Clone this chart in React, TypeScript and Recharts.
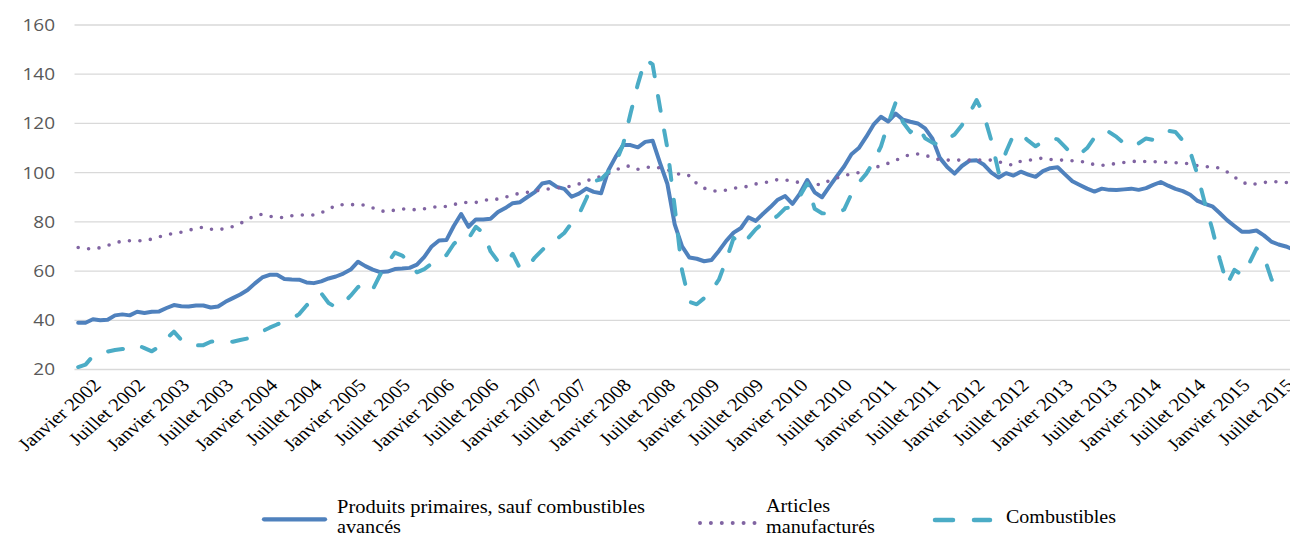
import React from "react";
import { LineChart, Line, XAxis, YAxis, CartesianGrid } from "recharts";

// Tick labels (one every 6 months, Jan 2002 .. Jul 2015)
const tickLabels = [
  "Janvier 2002", "Juillet 2002", "Janvier 2003", "Juillet 2003",
  "Janvier 2004", "Juillet 2004", "Janvier 2005", "Juillet 2005",
  "Janvier 2006", "Juillet 2006", "Janvier 2007", "Juillet 2007",
  "Janvier 2008", "Juillet 2008", "Janvier 2009", "Juillet 2009",
  "Janvier 2010", "Juillet 2010", "Janvier 2011", "Juillet 2011",
  "Janvier 2012", "Juillet 2012", "Janvier 2013", "Juillet 2013",
  "Janvier 2014", "Juillet 2014", "Janvier 2015", "Juillet 2015",
];
const MONTHS_PER_TICK = 6;

const yTicks = [20, 40, 60, 80, 100, 120, 140, 160];

// Monthly values, Jan 2002 .. Oct 2015
const primaires = [
  39, 39, 40.4, 40, 40.2, 42, 42.4, 42, 43.5, 43,
  43.5, 43.6, 45, 46.2, 45.7, 45.6, 46, 46, 45.2, 45.6,
  47.5, 49, 50.5, 52.3, 55, 57.4, 58.5, 58.5, 56.8, 56.6,
  56.5, 55.4, 55.1, 55.8, 57, 57.8, 59, 60.6, 63.8, 62,
  60.6, 59.6, 59.8, 60.8, 61, 61.3, 62.6, 65.8, 70, 72.4,
  72.6, 78.3, 83.2, 78, 81, 81, 81.3, 84, 85.6, 87.6,
  88, 90.1, 92.1, 95.6, 96.2, 94.2, 93.4, 90.2, 91.5, 93.5,
  92.2, 91.6, 101, 106.5, 111.2, 111.2, 110.3, 112.5, 113, 104,
  95.5, 79, 70, 65.5, 65, 64, 64.5, 68.2, 72.3, 75.6,
  77.5, 81.8, 80.4, 83.3, 86, 89, 90.5, 87.3, 91.5, 97,
  92, 90, 94.3, 98.5, 102.5, 107.5, 110, 114.5, 119.5, 122.7,
  120.8, 124, 121.5, 120.7, 120, 118, 113.8, 106, 102.3, 99.6,
  102.7, 104.8, 105, 103.2, 100, 98, 99.8, 98.8, 100.4, 99.2,
  98.3, 100.6, 101.8, 102.2, 99.3, 96.5, 95, 93.5, 92.3, 93.5,
  93, 92.9, 93.2, 93.5, 93, 93.7, 95, 96.2, 94.7, 93.4,
  92.5, 91, 88.5, 87.3, 86.3, 83.6, 80.7, 78.3, 76, 76,
  76.5, 74.5, 72, 70.8, 70, 68.8,
];

const manufactures = [
  69.6, 69.1, 69, 69.5, 70.4, 71.3, 72.3, 72.3, 72.3, 72.4,
  73, 73.9, 74.7, 75.4, 75.8, 76.6, 77.3, 77.9, 77, 76.8,
  77.3, 78.1, 79.3, 81, 82.5, 83.1, 82.3, 81.8, 81.8, 82.5,
  82.8, 82.8, 82.8, 83.7, 85, 86.8, 87, 87, 87, 86.8,
  85.7, 84.5, 84.1, 84.8, 85.2, 85.2, 84.8, 85.3, 85.8, 86.3,
  86.2, 87, 87.8, 87.9, 87.9, 88.5, 89.4, 89.2, 90, 91,
  91.6, 92, 92.5, 93, 93.4, 93.8, 94.1, 94.5, 95.4, 96.5,
  97.8, 98.4, 99.6, 101, 102.5, 102.7, 101.4, 102, 102.5, 101.9,
  101.2, 100.2, 98.8, 98.8, 95.5, 93.7, 92.7, 92.4, 92.9, 93.6,
  94.1, 94.4, 95.4, 95.9, 96.3, 97.2, 97, 96.6, 95.9, 95.7,
  95.3, 95.1, 96.8, 97.8, 98.6, 99.7, 100, 100.5, 101.6, 103,
  103.8, 105, 106.3, 107.4, 107.6, 107, 106.2, 105.1, 105.1, 105.1,
  105.1, 105.1, 105.1, 105.1, 105.1, 104.4, 103.6, 103, 104.7, 105.1,
  105.3, 106, 105.4, 105.1, 105.1, 104.8, 104.6, 104.2, 103.2, 103,
  103.2, 103.8, 104.1, 104.4, 104.8, 104.5, 104.4, 104.4, 104.1, 104,
  103.9, 103.5, 102.8, 102.4, 102.4, 101.8, 100.3, 98.2, 96.3, 95,
  95.5, 96, 96.3, 96.3, 96, 95.7,
];

// Jan 2002 .. Aug 2015
const combustibles = [
  21, 22, 25.5, 26.5, 27.3, 27.9, 28.3, 29, 30, 28.7,
  27.4, 29.3, 32.5, 35.4, 32, 30, 29.8, 29.9, 31.3, 31.7,
  31.5, 31.3, 32, 32.6, 34, 35.5, 37, 38.3, 39.5, 40.5,
  42.5, 46, 49, 51, 47, 45.3, 46.9, 50, 53.5, 55,
  52.5, 58.5, 63.2, 67.5, 66.3, 63.5, 59.5, 60.8, 63, 65.2,
  66.5, 71, 73.8, 73.2, 78, 75.5, 68, 64, 63, 67,
  61, 61.5, 65.5, 68.5, 71.5, 73, 75.5, 79.5, 83, 89.5,
  96.5, 97.3, 100.3, 104, 111.5, 124, 136, 146, 144, 126.5,
  110, 86, 60.2, 47.5, 46.5, 49, 52, 56.5, 64.5, 73.5,
  70.6, 73.5, 77, 79.5, 80.5, 82.5, 85.5, 86, 90.5, 95.7,
  85.3, 83.5, 83.3, 83.5, 85, 91.4, 96, 99.5, 104.5, 110.6,
  120, 128.5, 120.5, 116.5, 119, 114, 112.2, 111.2, 113.5, 115.5,
  119.3, 124, 129.5, 123.3, 113, 100, 108.5, 115.3, 115.7, 113,
  110.7, 112.6, 114.2, 113.5, 110.5, 107.3, 107.5, 110, 114.3, 117,
  116.5, 114.5, 111.9, 110.5, 111.9, 113.9, 113.3, 115, 117, 116.5,
  113, 108.5, 99, 87.5, 77, 65, 54.5, 60.5, 58.4, 63,
  69.2, 66, 57, 50,
];

const data = primaires.map((v, i) => ({
  idx: i,
  primaires: v,
  manufactures: manufactures[i],
  combustibles: i < combustibles.length ? combustibles[i] : null,
}));

const xTicks = tickLabels.map((_, i) => i * MONTHS_PER_TICK);

const COLOR_BLUE = "#4F81BD";
const COLOR_PURPLE = "#8064A2";
const COLOR_CYAN = "#4BACC6";

const SERIF = "'Liberation Serif', 'Times New Roman', serif";
const SANS = "'Open Sans', 'Liberation Sans', sans-serif";

const XTick = (props: any) => {
  const { x, y, payload } = props;
  const ax = x + 24;
  const ay = y + 9;
  const label = tickLabels[Math.round(payload.value / MONTHS_PER_TICK)];
  return (
    <g transform={`translate(${ax} ${ay}) scale(1.16 1) rotate(-45)`}>
      <text x={0} y={0} textAnchor="end" fontFamily={SERIF} fontSize={18} fill="#000">
        {label}
      </text>
    </g>
  );
};

const YTick = (props: any) => {
  const { x, y, payload } = props;
  return (
    <g transform={`translate(${x} ${y}) scale(1.15 1)`}>
      <text x={0} y={0} dy="0.355em" textAnchor="end" fontFamily={SANS} fontSize={16.5} fill="#595959">
        {payload.value}
      </text>
    </g>
  );
};

const LegendBox = () => (
  <svg
    width={1290}
    height={48}
    style={{ position: "absolute", left: 0, top: 480, overflow: "visible" }}
  >
    <line x1={256} x2={317} y1={31.3} y2={31.3} stroke={COLOR_BLUE} strokeWidth={4.3} strokeLinecap="round" />
    <text x={329} y={25} fontFamily={SERIF} fontSize={18} fill="#000" textLength={308} lengthAdjust="spacingAndGlyphs">
      Produits primaires, sauf combustibles
    </text>
    <text x={329} y={45} fontFamily={SERIF} fontSize={18} fill="#000" textLength={64} lengthAdjust="spacingAndGlyphs">
      avancés
    </text>

    <line x1={692} x2={747} y1={35} y2={35} stroke={COLOR_PURPLE} strokeWidth={4} strokeLinecap="round" strokeDasharray="0 10.9" />
    <text x={758} y={24} fontFamily={SERIF} fontSize={18} fill="#000" textLength={64} lengthAdjust="spacingAndGlyphs">
      Articles
    </text>
    <text x={758} y={44.5} fontFamily={SERIF} fontSize={18} fill="#000" textLength={109} lengthAdjust="spacingAndGlyphs">
      manufacturés
    </text>

    <line x1={927} x2={945} y1={32} y2={32} stroke={COLOR_CYAN} strokeWidth={4.5} strokeLinecap="round" />
    <line x1={966} x2={982} y1={32} y2={32} stroke={COLOR_CYAN} strokeWidth={4.5} strokeLinecap="round" />
    <text x={998} y={35} fontFamily={SERIF} fontSize={18} fill="#000" textLength={110} lengthAdjust="spacingAndGlyphs">
      Combustibles
    </text>
  </svg>
);

export default function App() {
  return (
    <div style={{ position: "relative", width: 1290, height: 528 }}>
      <LineChart
        width={1290}
        height={528}
        data={data}
        margin={{ top: 17, right: 1, left: 6.5, bottom: 56.5 }}
        style={{ overflow: "visible" }}
      >
        <CartesianGrid vertical={false} stroke="#d9d9d9" strokeWidth={1.3} />
        <XAxis
          type="number"
          dataKey="idx"
          domain={[-0.5, 165.5]}
          ticks={xTicks}
          interval={0}
          tick={<XTick />}
          axisLine={false}
          tickLine={false}
          height={110}
        />
        <YAxis
          type="number"
          domain={[20, 160]}
          ticks={yTicks}
          interval={0}
          axisLine={false}
          tickLine={false}
          tickSize={0}
          tickMargin={19.5}
          width={60}
          tick={<YTick />}
        />
        <Line
          type="linear"
          dataKey="primaires"
          stroke={COLOR_BLUE}
          strokeWidth={4}
          strokeLinejoin="round"
          strokeLinecap="round"
          dot={false}
          activeDot={false}
          isAnimationActive={false}
        />
        <Line
          type="linear"
          dataKey="manufactures"
          stroke={COLOR_PURPLE}
          strokeWidth={3.6}
          strokeLinecap="round"
          strokeDasharray="0 10.5"
          dot={false}
          activeDot={false}
          isAnimationActive={false}
        />
        <Line
          type="linear"
          dataKey="combustibles"
          stroke={COLOR_CYAN}
          strokeWidth={4}
          strokeLinecap="round"
          strokeLinejoin="round"
          strokeDasharray="15 20"
          dot={false}
          activeDot={false}
          isAnimationActive={false}
        />
      </LineChart>
      <LegendBox />
    </div>
  );
}
